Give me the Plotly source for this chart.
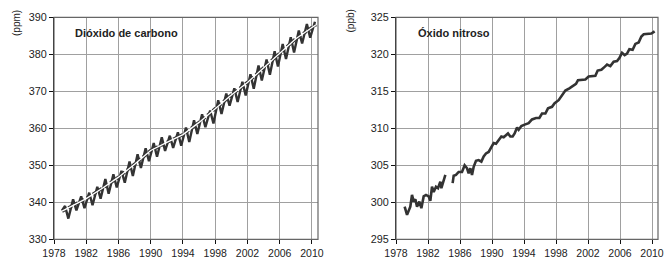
import plotly.graph_objects as go

# ---------------- data ----------------
tick_years = [1978, 1982, 1986, 1990, 1994, 1998, 2002, 2006, 2010]

# CO2: seasonal curve, as peak (May) / trough (Oct) per year
co2_peak_years = [1979.37, 1980.37, 1981.37, 1982.37, 1983.37, 1984.37, 1985.37, 1986.37,
                  1987.37, 1988.37, 1989.37, 1990.37, 1991.37, 1992.37, 1993.37, 1994.37,
                  1995.37, 1996.37, 1997.37, 1998.37, 1999.37, 2000.37, 2001.37, 2002.37,
                  2003.37, 2004.37, 2005.37, 2006.37, 2007.37, 2008.37, 2009.37, 2010.37]
co2_peak = [339.0, 340.8, 341.6, 342.6, 344.2, 346.3, 347.6, 348.5,
            351.0, 353.0, 354.6, 356.0, 357.6, 358.0, 358.9, 360.2,
            362.2, 363.8, 364.8, 367.6, 369.4, 370.8, 372.6, 374.6,
            377.0, 378.6, 380.8, 382.8, 384.6, 386.4, 388.2, 388.8]
co2_trough_years = [1979.78, 1980.78, 1981.78, 1982.78, 1983.78, 1984.78, 1985.78, 1986.78,
                    1987.78, 1988.78, 1989.78, 1990.78, 1991.78, 1992.78, 1993.78, 1994.78,
                    1995.78, 1996.78, 1997.78, 1998.78, 1999.78, 2000.78, 2001.78, 2002.78,
                    2003.78, 2004.78, 2005.78, 2006.78, 2007.78, 2008.78, 2009.78]
co2_trough = [335.6, 337.8, 338.4, 339.2, 341.0, 342.3, 344.0, 345.3,
              347.1, 349.3, 351.1, 352.3, 353.9, 354.7, 355.3, 356.3,
              358.5, 360.3, 361.3, 363.9, 366.1, 367.1, 368.9, 370.7,
              372.9, 374.5, 376.7, 378.7, 380.5, 382.9, 384.5]
co2_start_year = 1979.0
co2_start = 337.8

# CO2 smoothed trend
co2_trend_years = [1979.0, 1980.5, 1982.0, 1984.0, 1986.0, 1988.0, 1990.0, 1992.0, 1994.0,
                   1996.0, 1998.0, 2000.0, 2002.0, 2004.0, 2006.0, 2008.0, 2010.5]
co2_trend = [337.6, 339.4, 341.0, 343.8, 346.8, 350.3, 354.0, 356.2, 358.3,
             361.6, 365.4, 369.0, 372.4, 376.3, 380.3, 384.2, 388.0]

# N2O (None = gap in the record)
n2o_years = [1979.08, 1979.38, 1979.79, 1980.0, 1980.21, 1980.42, 1980.63, 1980.92, 1981.17,
             1981.46, 1981.75, 1982.08, 1982.29, 1982.5, 1982.71, 1983.0, 1983.25, 1983.54,
             1983.67, 1983.96, 1984.17, None,
             1985.08, 1985.21, 1985.5, 1985.83, 1986.25, 1986.58, 1986.88, 1987.08, 1987.29,
             1987.5, 1987.71, 1988.0, 1988.33, 1988.67, 1988.96, 1989.25, 1989.58, 1989.92,
             1990.21, 1990.5, 1990.83, 1991.17, 1991.46, 1991.75, 1992.0, 1992.29, 1992.58,
             1992.83, 1993.13, 1993.33, 1993.67, 1994.08, 1994.58, 1995.0, 1995.5, 1995.92,
             1996.25, 1996.67, 1997.0, 1997.5, 1997.83, 1998.33, 1998.75, 1999.17, 1999.67,
             2000.08, 2000.5, 2000.75, 2001.17, 2001.67, 2002.08, 2002.5, 2002.92, 2003.21,
             2003.67, 2004.08, 2004.38, 2004.79, 2005.21, 2005.63, 2005.92, 2006.25, 2006.58,
             2006.88, 2007.17, 2007.58, 2007.92, 2008.33, 2008.67, 2008.96, 2009.5, 2009.92,
             2010.33]
n2o_ppb = [299.4, 298.3, 299.4, 301.0, 300.1, 300.4, 299.4, 300.1, 299.2,
           300.8, 301.0, 300.8, 300.2, 302.1, 301.4, 302.1, 301.9, 302.8,
           301.9, 302.8, 303.7, None,
           302.6, 303.6, 303.7, 304.1, 304.1, 305.0, 304.6, 303.9, 304.6,
           303.7, 304.8, 305.6, 305.7, 305.5, 306.2, 306.6, 306.8, 307.5,
           308.0, 307.9, 308.4, 308.9, 308.8, 309.1, 309.3, 308.9, 308.9,
           309.3, 310.1, 309.8, 310.3, 310.5, 310.7, 311.2, 311.4, 311.4,
           312.0, 312.0, 312.7, 312.9, 313.4, 313.8, 314.5, 315.1, 315.4,
           315.7, 316.0, 316.5, 316.5, 316.6, 317.0, 317.0, 317.1, 317.8,
           317.9, 318.3, 318.6, 318.4, 319.0, 319.1, 319.5, 320.2, 319.9,
           320.1, 320.7, 320.6, 321.4, 321.6, 322.4, 322.7, 322.8, 322.8,
           323.1]

# build the seasonal CO2 series (interleave start, peaks and troughs)
co2_x = [co2_start_year]
co2_y = [co2_start]
for i in range(len(co2_peak)):
    co2_x.append(co2_peak_years[i]); co2_y.append(co2_peak[i])
    if i < len(co2_trough):
        co2_x.append(co2_trough_years[i]); co2_y.append(co2_trough[i])

# ---------------- figure ----------------
W, H = 664, 264
FONT = "Liberation Sans, Arial, sans-serif"
DARK = "#333333"

fig = go.Figure()

fig.add_trace(go.Scatter(x=co2_trend_years, y=co2_trend, mode="lines",
                         line=dict(color=DARK, width=3.4, dash="4px,3px"),
                         xaxis="x", yaxis="y", hoverinfo="skip"))
fig.add_trace(go.Scatter(x=co2_x, y=co2_y, mode="lines",
                         line=dict(color=DARK, width=2.4),
                         xaxis="x", yaxis="y"))
fig.add_trace(go.Scatter(x=co2_trend_years, y=co2_trend, mode="lines",
                         line=dict(color="white", width=1.3),
                         xaxis="x", yaxis="y", hoverinfo="skip"))
fig.add_trace(go.Scatter(x=n2o_years, y=n2o_ppb, mode="lines",
                         line=dict(color=DARK, width=2.6), connectgaps=False,
                         xaxis="x2", yaxis="y2"))

ydom = [1 - 239.3 / H, 1 - 17.3 / H]
xdom1 = [54 / W, 318 / W]
xdom2 = [396 / W, 658 / W]

common_x = dict(range=[1978, 2010.75], tickvals=tick_years, showgrid=True,
                gridcolor="#a0a0a0", gridwidth=1, showline=True, linecolor="#111",
                linewidth=1.3, ticks="outside", ticklen=4, tickcolor="#111",
                tickfont=dict(family=FONT, size=10.5, color="#222"), zeroline=False,
                automargin=False, fixedrange=True, ticklabeloverflow="allow")
common_y = dict(showgrid=True, gridcolor="#a0a0a0", gridwidth=1, showline=True,
                linecolor="#111", linewidth=1.3, ticks="outside", ticklen=4,
                tickcolor="#111", tickfont=dict(family=FONT, size=10.8, color="#222"),
                zeroline=False, automargin=False, fixedrange=True)

fig.update_layout(
    width=W, height=H, template="none", showlegend=False,
    paper_bgcolor="white", plot_bgcolor="white",
    margin=dict(l=0, r=0, t=0, b=0),
    xaxis=dict(domain=xdom1, anchor="y", **common_x),
    yaxis=dict(domain=ydom, anchor="x", range=[330, 390], dtick=10, **common_y),
    xaxis2=dict(domain=xdom2, anchor="y2", **common_x),
    yaxis2=dict(domain=ydom, anchor="x2", range=[295, 325], dtick=5, **common_y),
    shapes=[
        dict(type="rect", xref="x domain", yref="y domain", x0=0, x1=1, y0=0, y1=1,
             line=dict(color="#666", width=1.2), layer="above"),
        dict(type="rect", xref="x2 domain", yref="y2 domain", x0=0, x1=1, y0=0, y1=1,
             line=dict(color="#666", width=1.2), layer="above"),
    ],
    annotations=[
        dict(text="Dióxido de carbono", xref="paper", yref="paper",
             x=73 / W, y=1 - 33 / H, xanchor="left", yanchor="middle", showarrow=False,
             font=dict(family=FONT, size=11, color="#222", weight="bold")),
        dict(text="Óxido nitroso", xref="paper", yref="paper",
             x=416 / W, y=1 - 33 / H, xanchor="left", yanchor="middle", showarrow=False,
             font=dict(family=FONT, size=11, color="#222", weight="bold")),
        dict(text="(ppm)", xref="paper", yref="paper", textangle=-90,
             x=17 / W, y=1 - 8 / H, xanchor="center", yanchor="top", showarrow=False,
             font=dict(family=FONT, size=10, color="#222")),
        dict(text="(ppb)", xref="paper", yref="paper", textangle=-90,
             x=350 / W, y=1 - 8 / H, xanchor="center", yanchor="top", showarrow=False,
             font=dict(family=FONT, size=10, color="#222")),
    ],
)

fig.write_html(
    "out.html",
    config={"displayModeBar": False},
    post_script="document.body.style.margin='0';document.body.style.overflow='hidden';",
)
